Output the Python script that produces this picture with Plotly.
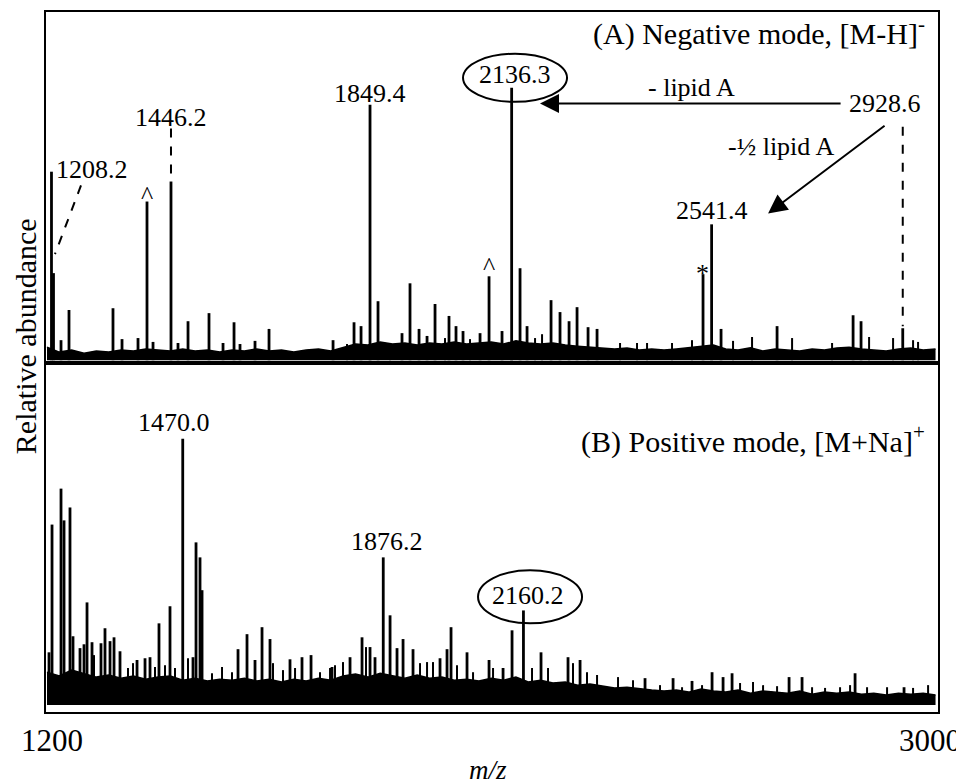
import plotly.graph_objects as go

# ---------------- data ----------------
MZ_RANGE = [1193, 3000]
TICK_VALUES = [1200, 3000]
TICK_LABELS = ["1200", "3000"]

# Panel A: negative mode, [M-H]-  (peak m/z, relative intensity 0-100)
neg_mz = [1204.1, 1208.2, 1223.4, 1239.6, 1328.7, 1347.0, 1379.4, 1397.6, 1409.8, 1446.2,
          1460.4, 1480.7, 1523.2, 1551.6, 1573.9, 1586.0, 1616.4, 1644.8, 1774.5, 1817.0,
          1831.2, 1849.4, 1865.6, 1914.2, 1930.4, 1948.7, 1964.9, 1981.1, 2009.4, 2023.6,
          2037.8, 2072.3, 2090.5, 2116.8, 2136.3, 2153.3, 2167.5, 2216.1, 2234.3, 2252.6,
          2268.8, 2291.1, 2309.3, 2524.0, 2541.4, 2560.5, 2674.0, 2828.0, 2844.1, 2928.6]
neg_int = [54.5, 25.6, 6.5, 15.1, 15.6, 6.8, 7.1, 46.0, 6.0, 51.7,
           5.7, 11.9, 14.2, 5.7, 11.6, 5.4, 6.3, 9.7, 6.5, 11.6,
           10.5, 73.6, 17.6, 8.5, 22.7, 9.7, 7.7, 16.8, 13.4, 10.5,
           9.1, 8.5, 24.7, 9.1, 78.4, 27.0, 10.5, 17.9, 14.5, 11.9,
           15.9, 10.2, 9.7, 25.3, 39.5, 9.7, 10.5, 13.6, 11.9, 9.9]
# small noise spikes, panel A
neg_minor_mz = [1802.8, 1889.9, 2001.3, 2052.0, 2183.7, 2197.9, 2355.9, 2390.3, 2410.6, 2461.2,
                2501.7, 2584.8, 2623.3, 2704.4, 2785.4, 2860.4, 2909.0, 2949.5, 2959.6]
neg_minor_int = [5.4, 5.4, 7.1, 6.8, 7.1, 8.2, 5.7, 5.7, 5.7, 5.7,
                 6.5, 6.3, 7.4, 7.1, 5.7, 7.4, 7.1, 6.5, 6.0]

# Panel B: positive mode, [M+Na]+
pos_mz = [1199.1, 1205.2, 1223.4, 1229.5, 1241.6, 1247.7, 1261.9, 1270.0, 1276.1, 1286.2,
          1304.4, 1312.5, 1322.7, 1330.8, 1342.9, 1377.4, 1393.6, 1403.7, 1421.9, 1444.2,
          1470.0, 1490.8, 1496.9, 1505.0, 1509.1, 1582.0, 1600.2, 1616.4, 1630.6, 1646.8,
          1687.3, 1711.6, 1729.9, 1772.4, 1808.9, 1833.2, 1849.4, 1859.5, 1876.2, 1890.0,
          1904.1, 1916.3, 1936.5, 1991.2, 2005.4, 2013.5, 2045.9, 2090.5, 2118.9, 2137.1,
          2160.2, 2195.8, 2250.5, 2274.9, 2406.5, 2463.3, 2501.7, 2542.3, 2564.6, 2582.8,
          2698.3, 2724.6, 2832.0, 2931.2]
pos_int = [17.1, 53.7, 64.0, 54.9, 58.6, 21.7, 18.3, 19.4, 31.4, 20.0,
           19.7, 24.0, 20.3, 21.4, 17.4, 14.9, 15.4, 15.7, 25.4, 30.3,
           78.3, 15.7, 48.6, 44.3, 34.9, 18.0, 22.3, 14.9, 24.3, 20.9,
           15.1, 15.7, 16.3, 12.9, 15.7, 21.4, 18.6, 15.7, 44.3, 27.7,
           18.3, 20.9, 18.0, 15.4, 18.0, 24.3, 17.1, 14.9, 12.6, 23.4,
           29.1, 17.1, 15.7, 14.9, 9.7, 9.7, 8.9, 11.4, 10.0, 11.1,
           10.0, 10.0, 11.1, 7.1]
# small noise spikes, panel B
pos_minor_mz = [1290.2, 1359.1, 1369.3, 1413.8, 1434.1, 1454.3, 1480.7, 1529.3, 1549.6, 1569.8,
                1652.9, 1673.1, 1697.5, 1748.1, 1768.4, 1778.5, 1794.7, 1841.3, 1950.7, 1964.9,
                1977.0, 2025.6, 2058.1, 2098.6, 2177.6, 2210.0, 2260.6, 2289.0, 2309.3, 2351.8,
                2382.2, 2436.9, 2481.5, 2522.0, 2599.0, 2625.3, 2645.6, 2674.0, 2744.9, 2771.2,
                2801.6, 2821.9, 2856.3, 2896.8, 2949.5, 2979.9]
pos_minor_int = [16.3, 12.6, 14.0, 12.9, 13.4, 12.6, 15.4, 11.1, 12.9, 11.4,
                 14.0, 12.0, 12.6, 11.4, 12.6, 13.4, 14.3, 18.6, 14.0, 14.3,
                 14.3, 13.4, 11.4, 12.6, 12.6, 12.6, 14.0, 11.4, 10.6, 10.0,
                 9.1, 7.7, 7.1, 7.7, 8.3, 8.6, 7.7, 7.4, 7.1, 6.9,
                 7.1, 7.7, 7.1, 7.1, 6.9, 7.7]

# Noise envelope (upper edge of the baseline noise band), read every 25 m/z from 1195
noise_mz = list(range(1195, 3000, 25))
neg_noise = [4.5, 3.1, 3.7, 2.8, 3.4, 3.1, 3.7, 3.4, 4.0, 3.7,
             3.4, 4.0, 3.4, 3.7, 3.1, 3.7, 3.4, 4.0, 3.4, 3.7,
             3.1, 3.7, 4.0, 3.4, 4.5, 5.4, 5.1, 6.0, 5.4, 5.7,
             5.1, 5.7, 5.4, 6.0, 5.4, 5.7, 6.0, 5.4, 6.3, 5.7,
             5.4, 5.7, 5.1, 4.8, 4.5, 4.3, 4.0, 4.3, 3.7, 4.0,
             3.7, 4.0, 4.3, 4.8, 5.1, 4.0, 3.7, 4.3, 3.4, 4.0,
             3.7, 3.4, 4.0, 3.7, 4.3, 4.5, 4.0, 3.7, 3.4, 4.0,
             4.3, 3.7, 4.0]
pos_noise = [11.4, 10.3, 12.0, 10.9, 10.0, 10.6, 9.7, 10.3, 9.4, 10.0,
             10.3, 9.1, 9.7, 8.9, 9.4, 9.1, 9.7, 8.9, 9.4, 8.6,
             9.4, 8.9, 9.7, 9.1, 10.3, 10.9, 10.0, 11.1, 10.3, 9.7,
             10.6, 9.7, 10.0, 9.1, 9.4, 8.9, 9.7, 9.1, 10.0, 8.6,
             9.1, 8.3, 8.6, 7.7, 8.0, 7.4, 6.9, 7.1, 6.6, 6.3,
             6.0, 6.3, 5.7, 6.6, 6.0, 5.7, 6.3, 5.4, 6.0, 5.7,
             5.4, 6.0, 5.1, 5.7, 5.4, 5.7, 5.1, 5.4, 4.9, 5.4,
             5.1, 5.4, 4.9]
NEG_FLOOR = 0.8
POS_FLOOR = 2.0

FONT = "Liberation Serif"

# ---------------- figure ----------------
fig = go.Figure()


def sticks(mz, inten, floor, xa, ya, width):
    sx, sy = [], []
    for m, v in zip(mz, inten):
        sx += [m, m, None]
        sy += [floor, v, None]
    fig.add_trace(go.Scatter(x=sx, y=sy, mode="lines", line=dict(width=width, color="black"),
                             xaxis=xa, yaxis=ya, showlegend=False, hoverinfo="skip"))


def add_spectrum(mz, inten, mmz, mint, noise, floor, xa, ya):
    fig.add_trace(go.Scatter(x=noise_mz, y=[floor] * len(noise_mz), mode="lines",
                             line=dict(width=0, color="black"), xaxis=xa, yaxis=ya,
                             hoverinfo="skip", showlegend=False))
    fig.add_trace(go.Scatter(x=noise_mz, y=noise, mode="lines", fill="tonexty",
                             fillcolor="black", line=dict(width=1.5, color="black"),
                             xaxis=xa, yaxis=ya, hoverinfo="skip", showlegend=False))
    sticks(mmz, mint, floor, xa, ya, 2)
    sticks(mz, inten, floor, xa, ya, 2.8)


add_spectrum(neg_mz, neg_int, neg_minor_mz, neg_minor_int, neg_noise, NEG_FLOOR, "x2", "y2")
add_spectrum(pos_mz, pos_int, pos_minor_mz, pos_minor_int, pos_noise, POS_FLOOR, "x", "y")

axis_style = dict(showline=True, mirror=True, linecolor="black", linewidth=2,
                  showgrid=False, zeroline=False, ticks="", showticklabels=False)
SPLIT = 0.4986
# the page body adds an 8 px offset, so the figure is 8 px smaller than the window
fig.update_layout(
    width=956, height=776,
    margin=dict(l=38, r=26, t=2, b=72),
    paper_bgcolor="white", plot_bgcolor="white",
    showlegend=False,
    font=dict(family=FONT, color="black", size=26),
    xaxis=dict(domain=[0, 1], range=MZ_RANGE, anchor="y", tickvals=TICK_VALUES, **axis_style),
    xaxis2=dict(domain=[0, 1], range=MZ_RANGE, anchor="y2", matches="x", **axis_style),
    yaxis=dict(domain=[0, SPLIT], range=[0, 100], anchor="x", **axis_style),
    yaxis2=dict(domain=[SPLIT, 1], range=[0, 100], anchor="x2", **axis_style),
)

ann = []


def label(text, x, y, xr="x2", yr="y2", size=26, **kw):
    ann.append(dict(text=text, x=x, y=y, xref=xr, yref=yr, showarrow=False,
                    font=dict(family=FONT, size=size, color="black"),
                    xanchor="center", yanchor="middle", **kw))


# panel A labels
label("1208.2", 1286.2, 55.1)
label("1446.2", 1446.2, 69.9)
label("^", 1397.6, 47.7)
label("1849.4", 1849.4, 76.7)
label("2136.3", 2143.0, 82.3)
label("^", 2090.5, 27.6)
label("- lipid A", 2499.7, 78.4)
label("2928.6", 2892.8, 73.9)
label("-½ lipid A", 2682.1, 61.8)
label("2541.4", 2541.4, 43.5)
label("*", 2522.0, 25.6)
# panel B labels
label("1470.0", 1452.0, 82.9, xr="x", yr="y")
label("1876.2", 1883.8, 48.9, xr="x", yr="y")
label("2160.2", 2169.5, 33.3, xr="x", yr="y")

# panel titles
ann.append(dict(text="(A) Negative mode, [M-H]<sup>-</sup>", x=0.988, y=0.9715, xref="paper",
                yref="paper", xanchor="right", yanchor="middle", showarrow=False,
                font=dict(family=FONT, size=30, color="black")))
ann.append(dict(text="(B) Positive mode, [M+Na]<sup>+</sup>", x=0.988, y=0.390, xref="paper",
                yref="paper", xanchor="right", yanchor="middle", showarrow=False,
                font=dict(family=FONT, size=30, color="black")))

# arrows
for (hx, hy, tx, ty) in [(2193.8, 73.9, 2805.7, 73.9), (2655.7, 42.6, 2894.8, 67.9)]:
    ann.append(dict(text="", x=hx, y=hy, ax=tx, ay=ty, xref="x2", yref="y2",
                    axref="x2", ayref="y2", showarrow=True, arrowhead=2,
                    arrowsize=1.9, arrowwidth=2, arrowcolor="black"))

# axis tick labels & titles
for v, t, sh in zip(TICK_VALUES, TICK_LABELS, [3, -8]):
    ann.append(dict(text=t, x=v, y=-0.0413, xref="x", yref="paper", xshift=sh,
                    xanchor="center", yanchor="middle", showarrow=False,
                    font=dict(family=FONT, size=31, color="black")))
ann.append(dict(text="<i>m/z</i>", x=0.496, y=-0.0826, xref="paper", yref="paper",
                xanchor="center", yanchor="middle", showarrow=False,
                font=dict(family=FONT, size=27, color="black")))
ann.append(dict(text="Relative abundance", x=-0.0235, y=0.537, xref="paper", yref="paper",
                xanchor="center", yanchor="middle", showarrow=False, textangle=-90,
                font=dict(family=FONT, size=30, color="black")))
fig.update_layout(annotations=ann)

# dashed leader lines and ellipses
shapes = [
    dict(type="line", xref="x2", yref="y2", x0=1263.9, y0=50.6, x1=1211.2, y1=31.0,
         line=dict(color="black", width=2, dash="dash")),
    dict(type="line", xref="x2", yref="y2", x0=1446.2, y0=66.8, x1=1446.2, y1=52.6,
         line=dict(color="black", width=2, dash="dash")),
    dict(type="line", xref="x2", yref="y2", x0=2928.6, y0=67.3, x1=2928.6, y1=10.5,
         line=dict(color="black", width=2, dash="dash")),
    dict(type="circle", xref="x2", yref="y2", x0=2037.8, y0=74.4, x1=2248.5, y1=88.1,
         line=dict(color="black", width=2)),
    dict(type="circle", xref="x", yref="y", x0=2068.2, y0=25.4, x1=2278.9, y1=40.6,
         line=dict(color="black", width=2)),
]
fig.update_layout(shapes=shapes)

fig.write_html("out.html")
